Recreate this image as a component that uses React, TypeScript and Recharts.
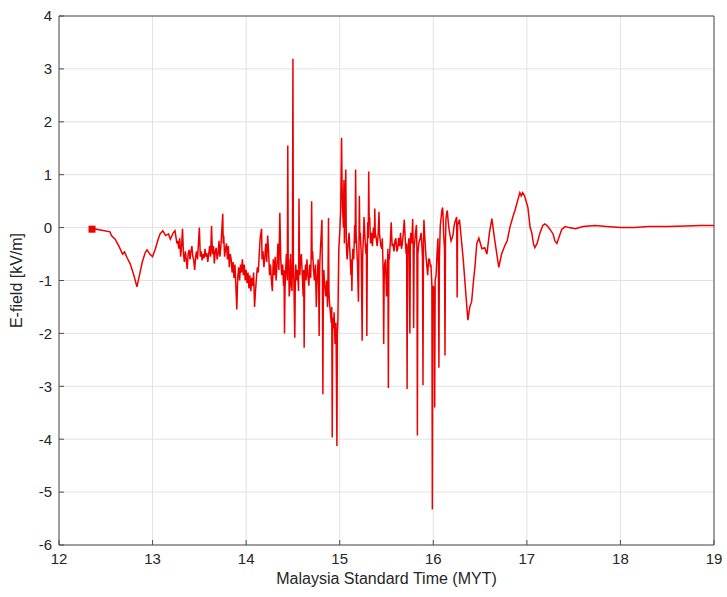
import {
  LineChart,
  Line,
  XAxis,
  YAxis,
  CartesianGrid,
  ReferenceLine,
} from "recharts";

// [hour (MYT), E-field (kV/m)] samples, one array per stretch
const onsetTrace: Array<[number, number]> = [
  [12.353, -0.03], [12.362, -0.06], [12.37, -0.02], [12.545, -0.08], [12.56, -0.15],
  [12.6, -0.22], [12.64, -0.35], [12.68, -0.5], [12.7, -0.46], [12.73, -0.58],
  [12.76, -0.68], [12.8, -0.9], [12.833, -1.12], [12.86, -0.9], [12.89, -0.65],
  [12.92, -0.48], [12.94, -0.42], [12.97, -0.5], [13.0, -0.55], [13.03, -0.4],
  [13.06, -0.22], [13.08, -0.12], [13.11, -0.06], [13.14, -0.15], [13.17, -0.12],
  [13.19, -0.22], [13.22, -0.1], [13.24, -0.06], [13.26, -0.3],
];

const earlyTrace: Array<[number, number]> = [
  [13.27, -0.25], [13.28, -0.4], [13.29, -0.2], [13.3, -0.55], [13.31, -0.35],
  [13.32, -0.02], [13.33, -0.5], [13.34, -0.65], [13.35, -0.45], [13.36, -0.6],
  [13.37, -0.78], [13.38, -0.5], [13.39, -0.42], [13.4, -0.6], [13.41, -0.45],
  [13.42, -0.35], [13.43, -0.55], [13.44, -0.62], [13.45, -0.8], [13.46, -0.55],
  [13.47, -0.45], [13.48, -0.6], [13.49, -0.3], [13.5, 0.0], [13.51, -0.55],
  [13.52, -0.45], [13.53, -0.62], [13.54, -0.5], [13.55, -0.58], [13.56, -0.4],
  [13.57, -0.55], [13.58, -0.48], [13.59, -0.65], [13.6, -0.5], [13.61, -0.35],
  [13.62, -0.55], [13.63, 0.03], [13.64, -0.5], [13.65, -0.35], [13.66, -0.68],
  [13.67, -0.45], [13.68, -0.38], [13.69, -0.6], [13.7, -0.5], [13.71, -0.25],
  [13.72, -0.55], [13.73, -0.35], [13.74, -0.05], [13.75, 0.26], [13.755, -0.3],
  [13.76, -0.15], [13.77, -0.55], [13.78, -0.4], [13.79, -0.3], [13.8, -0.6],
  [13.81, -0.35], [13.82, -0.75], [13.83, -0.5], [13.84, -0.6], [13.85, -0.85],
  [13.86, -0.65], [13.87, -0.95], [13.88, -0.7], [13.89, -1.1], [13.9, -1.55],
  [13.91, -0.95], [13.92, -0.75], [13.93, -1.0], [13.94, -0.7], [13.95, -0.85],
  [13.96, -0.6], [13.97, -0.9], [13.98, -0.7], [13.99, -1.0], [14.0, -0.8],
  [14.01, -1.05], [14.02, -0.85], [14.03, -1.15], [14.04, -0.9], [14.05, -1.2],
  [14.06, -0.95], [14.07, -1.1], [14.08, -0.85], [14.09, -1.5], [14.1, -1.2],
  [14.11, -0.95], [14.12, -0.75], [14.13, -0.85], [14.14, -0.5], [14.15, -0.2],
  [14.165, -0.02], [14.17, -0.6], [14.18, -0.45], [14.19, -0.75], [14.2, -0.55],
  [14.21, -0.3], [14.22, -0.65], [14.23, -0.15], [14.24, -0.45], [14.25, -0.9],
  [14.26, -0.7], [14.27, -1.0], [14.28, -1.2], [14.29, -0.6], [14.3, -0.9],
  [14.31, -0.55], [14.32, -1.0], [14.33, -0.7], [14.34, -0.3], [14.35, -0.8],
  [14.36, 0.28],
];

const activeTrace: Array<[number, number]> = [
  [14.37, -0.6], [14.38, -0.9], [14.39, -0.7], [14.4, -1.1], [14.405, -0.8],
  [14.41, -2.0], [14.415, -1.2], [14.42, -0.9], [14.43, -0.5], [14.44, -1.0],
  [14.445, 1.55], [14.45, -0.8], [14.455, -0.6], [14.46, -1.3], [14.47, -1.1],
  [14.475, -0.5], [14.48, -0.9], [14.49, -1.2], [14.495, -0.6], [14.5, 3.19],
  [14.505, -0.7], [14.51, -1.0], [14.52, -2.08], [14.525, -1.1], [14.53, -0.7],
  [14.54, -1.0], [14.55, -0.8], [14.56, -1.2], [14.565, 0.55], [14.57, -0.6],
  [14.575, -0.9], [14.58, -0.6], [14.59, -0.5], [14.6, -0.9], [14.61, -1.3],
  [14.615, -0.8], [14.62, -2.27], [14.625, -1.0], [14.635, -0.7], [14.64, -1.0],
  [14.65, -0.6], [14.66, -0.9], [14.67, -1.1], [14.68, -0.7], [14.69, -0.95],
  [14.695, -0.5], [14.7, 0.5], [14.705, -0.6], [14.71, -0.45], [14.72, -0.8],
  [14.73, -1.0], [14.74, -0.7], [14.75, -1.5], [14.76, -0.9], [14.77, -0.6],
  [14.775, -1.0], [14.78, -2.05], [14.785, -0.8], [14.79, -0.55], [14.8, -0.2],
  [14.81, 0.15], [14.815, -0.9], [14.82, -3.15], [14.825, -1.1], [14.83, -0.8],
  [14.84, -1.1], [14.85, -1.3], [14.86, -1.0], [14.87, -1.5], [14.875, -0.9],
  [14.88, 0.18], [14.885, -1.2], [14.89, -1.4], [14.9, -1.6], [14.91, -1.8],
  [14.915, -1.5], [14.92, -3.97], [14.925, -1.7], [14.935, -1.9], [14.94, -1.6],
  [14.95, -2.2], [14.96, -1.8], [14.97, -4.13], [14.975, -2.0], [14.98, -1.8],
  [14.99, -0.4],
];

const lateTrace: Array<[number, number]> = [
  [15.0, -0.1], [15.01, 0.3], [15.02, 1.7], [15.025, 0.8], [15.03, 0.4],
  [15.04, 0.0], [15.045, 0.9], [15.05, -0.3], [15.055, 0.2], [15.065, 1.1],
  [15.07, -0.2], [15.075, -0.5], [15.08, -0.6], [15.09, -0.3], [15.1, -0.1],
  [15.11, -0.5], [15.12, -0.9], [15.125, -0.6], [15.13, -1.2], [15.135, -0.7],
  [15.14, -0.4], [15.15, -0.6], [15.16, 0.05], [15.165, -0.3], [15.17, 1.1],
  [15.175, -0.1], [15.18, -0.3], [15.19, -0.7], [15.2, -1.4], [15.205, -0.5],
  [15.21, 0.6], [15.215, -0.2], [15.22, -0.1], [15.23, -0.5], [15.24, -2.14],
  [15.245, -0.6], [15.25, -0.3], [15.255, -0.1], [15.26, 0.2], [15.27, -0.2],
  [15.28, -0.5], [15.285, -0.3], [15.29, -2.05], [15.295, -0.4], [15.3, 0.1],
  [15.305, -0.2], [15.31, 1.06], [15.315, 0.1], [15.32, 0.2], [15.33, -0.3],
  [15.34, -0.1], [15.35, -0.35], [15.36, 0.0], [15.37, -0.2], [15.375, 0.36],
  [15.38, -0.1], [15.39, -0.2], [15.4, -0.35], [15.41, -0.15], [15.42, 0.3],
  [15.425, -0.1], [15.43, -0.2], [15.44, -0.35], [15.45, -0.4], [15.455, -0.2],
  [15.46, -0.5], [15.465, -0.9], [15.47, -2.2], [15.475, -1.0], [15.48, -0.7],
  [15.49, -0.6], [15.5, -1.3], [15.51, -0.8], [15.515, -0.4], [15.52, -3.03],
  [15.525, -0.5], [15.53, -0.6], [15.54, -0.3], [15.55, 0.1], [15.56, -0.35],
  [15.57, -0.3], [15.58, -0.45], [15.59, -0.25], [15.6, -0.2], [15.61, -0.45],
  [15.62, -0.4], [15.63, -0.2], [15.64, -0.35], [15.65, -0.1], [15.66, -0.4],
  [15.67, -0.3], [15.68, -0.1], [15.69, 0.15], [15.7, -0.2], [15.71, -0.5],
  [15.715, -0.3], [15.72, -3.05], [15.725, -0.5], [15.73, -0.4], [15.74, -0.2],
  [15.75, -2.0], [15.755, -0.3], [15.76, -0.1], [15.77, -0.3], [15.78, 0.16],
  [15.785, -0.3], [15.79, -1.9], [15.795, -0.4], [15.8, -0.3], [15.81, -0.1],
  [15.82, 0.05], [15.825, -0.4], [15.83, -3.93], [15.835, -0.5], [15.845, -0.3],
  [15.86, -0.2], [15.87, -0.1], [15.88, -0.4], [15.885, -0.6], [15.89, -2.98],
  [15.895, -0.3], [15.9, 0.15], [15.91, -0.2], [15.92, -0.5], [15.93, -0.7],
  [15.94, -0.9], [15.95, -0.6], [15.96, -0.6], [15.97, -0.75], [15.975, -0.7],
  [15.985, -1.1], [15.99, -5.33], [15.995, -1.3], [16.0, -1.1], [16.01, -1.2],
  [16.015, -3.4], [16.02, -1.0], [16.03, -0.9], [16.04, -0.5], [16.05, -0.2],
  [16.055, -0.8], [16.06, -2.65], [16.065, -0.6], [16.075, 0.05], [16.085, 0.2],
  [16.09, 0.3], [16.1, 0.38], [16.105, 0.2], [16.11, -0.1], [16.12, -0.4],
  [16.125, -2.42], [16.13, -0.3], [16.135, 0.15], [16.145, 0.3], [16.15, 0.32],
  [16.16, 0.1], [16.17, -0.05], [16.18, -0.15], [16.19, -0.25], [16.2, -0.2],
  [16.21, -0.15], [16.22, 0.0], [16.23, 0.1], [16.24, 0.15], [16.25, 0.2],
  [16.255, -1.32], [16.26, 0.05],
];

const recoveryTrace: Array<[number, number]> = [
  [16.28, 0.15], [16.32, -0.6], [16.35, -1.3], [16.37, -1.75], [16.39, -1.5],
  [16.41, -1.4], [16.43, -1.0], [16.445, -0.75], [16.465, -0.3], [16.487, -0.2],
  [16.52, -0.4], [16.55, -0.38], [16.573, -0.5], [16.6, -0.1], [16.626, 0.17],
  [16.658, -0.25], [16.7, -0.75], [16.73, -0.5], [16.765, -0.34], [16.79, -0.25],
  [16.818, 0.0], [16.85, 0.2], [16.872, 0.32], [16.9, 0.5], [16.925, 0.66],
  [16.94, 0.6], [16.955, 0.66], [16.975, 0.6], [17.011, 0.38], [17.035, 0.0],
  [17.053, -0.1], [17.07, -0.3], [17.085, -0.38], [17.11, -0.3], [17.14, -0.1],
  [17.17, 0.04], [17.192, 0.07], [17.22, 0.03], [17.246, -0.03], [17.28, -0.12],
  [17.3, -0.25], [17.321, -0.3], [17.35, -0.15], [17.374, -0.03], [17.41, 0.02],
  [17.45, 0.0], [17.52, -0.02], [17.6, 0.02], [17.73, 0.04], [17.85, 0.02],
  [18.0, 0.0], [18.15, 0.0], [18.3, 0.02], [18.5, 0.02], [18.7, 0.03],
  [18.85, 0.04], [19.0, 0.04],
];

const hourTicks = [12, 13, 14, 15, 16, 17, 18, 19];
const fieldTicks = [-6, -5, -4, -3, -2, -1, 0, 1, 2, 3, 4];

const data = [onsetTrace, earlyTrace, activeTrace, lateTrace, recoveryTrace]
  .flat()
  .map(([time, field]) => ({ time, field }));

const AXIS = "#4d4d4d";
const TEXT = "#262626";
const RED = "#ee0000";

// only the first sample gets the square marker
function StartMarker(props: any) {
  const { cx, cy, index } = props;
  if (index !== 0) return <g key={`m-${index}`} />;
  return (
    <rect key="m-0" x={cx - 3.5} y={cy - 3.5} width={7} height={7} fill={RED} />
  );
}

export default function App() {
  return (
    <div style={{ position: "absolute", left: 0, top: 0, background: "#fff" }}>
      <LineChart
        width={727}
        height={597}
        data={data}
        margin={{ top: 16, right: 13, bottom: 0, left: 0 }}
        style={{ fontFamily: "'Liberation Sans', Arial, sans-serif" }}
      >
        <CartesianGrid stroke="#e2e2e2" />
        <XAxis
          dataKey="time"
          type="number"
          domain={[12, 19]}
          ticks={hourTicks}
          allowDataOverflow
          height={52}
          stroke={AXIS}
          tickSize={-5}
          tickMargin={13}
          tick={{ fill: TEXT, fontSize: 15 }}
          label={{
            value: "Malaysia Standard Time (MYT)",
            position: "insideBottom",
            offset: 13,
            fill: TEXT,
            fontSize: 16,
          }}
        />
        <YAxis
          type="number"
          domain={[-6, 4]}
          ticks={fieldTicks}
          allowDataOverflow
          width={59}
          stroke={AXIS}
          tickSize={-5}
          tickMargin={12}
          tick={{ fill: TEXT, fontSize: 15 }}
          label={{
            value: "E-field [kV/m]",
            angle: -90,
            position: "insideLeft",
            offset: 16,
            fill: TEXT,
            fontSize: 16,
            style: { textAnchor: "middle" },
          }}
        />
        {/* box frame on top and right */}
        <ReferenceLine y={4} stroke={AXIS} strokeWidth={1} />
        <ReferenceLine x={19} stroke={AXIS} strokeWidth={1} />
        <Line
          type="linear"
          dataKey="field"
          stroke={RED}
          strokeWidth={1.5}
          dot={StartMarker}
          activeDot={false}
          isAnimationActive={false}
        />
      </LineChart>
    </div>
  );
}
